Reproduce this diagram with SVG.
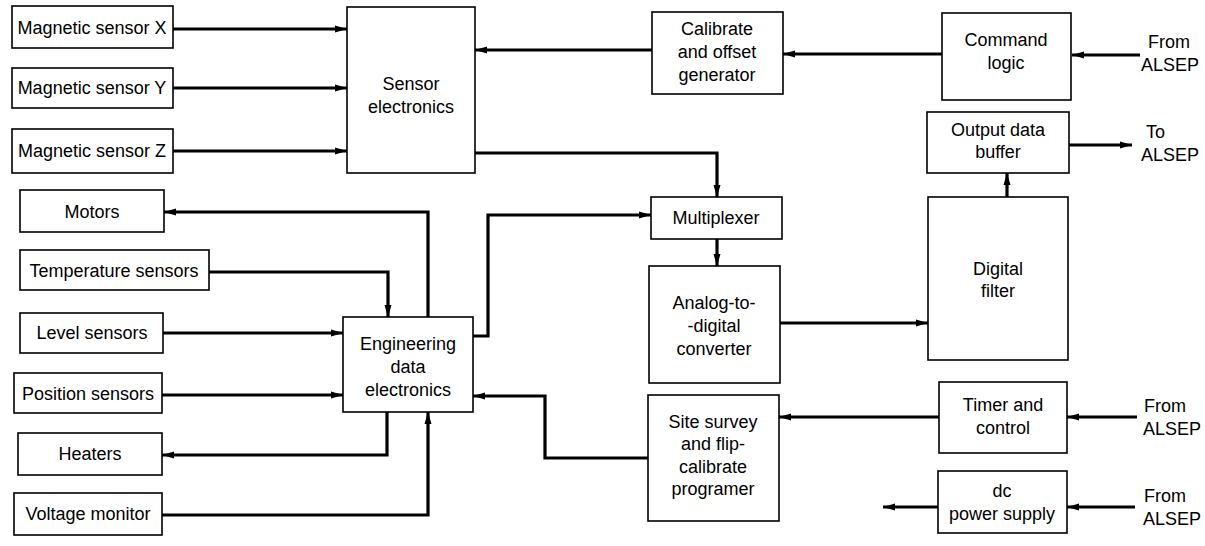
<svg xmlns="http://www.w3.org/2000/svg" width="1205" height="546" viewBox="0 0 1205 546">
<defs>
<marker id="ah" markerUnits="userSpaceOnUse" markerWidth="14" markerHeight="10" refX="12" refY="5" orient="auto">
<path d="M0,1.5 L12,5 L0,8.5 Z" fill="#000"/>
</marker>
<style>
rect{fill:#fff;stroke:#000;stroke-width:1.6}
text{font-family:"Liberation Sans",Arial,sans-serif;font-size:18px;fill:#000;text-anchor:middle}
.l{text-anchor:start}
#connectors path{fill:none;stroke:#000;stroke-width:3.2;marker-end:url(#ah)}
</style>
</defs>
<rect x="0" y="0" width="1205" height="546" style="fill:#fff;stroke:none"/>
<g id="connectors">
<path d="M172 29 H347"/>
<path d="M172 88 H347"/>
<path d="M172 151 H347"/>
<path d="M652 50 H475"/>
<path d="M942 54 H783"/>
<path d="M1140 55 H1072"/>
<path d="M1069 145 H1132"/>
<path d="M1007 197 V173"/>
<path d="M475 153 H717 V197"/>
<path d="M717 239 V266"/>
<path d="M780 323 H928"/>
<path d="M473 336 H488 V215 H651"/>
<path d="M939 417 H779"/>
<path d="M1137 417 H1067"/>
<path d="M1135 507 H1067"/>
<path d="M938 507 H883"/>
<path d="M648 458 H545 V396 H473"/>
<path d="M428 317 V212 H164"/>
<path d="M209 272 H388 V317"/>
<path d="M163 333 H343"/>
<path d="M162 395 H343"/>
<path d="M387 412 V455 H162"/>
<path d="M162 515 H428 V412"/>
</g>
<g id="mag-x"><rect x="12" y="6" width="161" height="42"/><text x="92" y="34">Magnetic sensor X</text></g>
<g id="mag-y"><rect x="12" y="68" width="161" height="40"/><text x="92" y="94">Magnetic sensor Y</text></g>
<g id="mag-z"><rect x="12" y="129" width="161" height="44"/><text x="92" y="157">Magnetic sensor Z</text></g>
<g id="sensor-electronics"><rect x="347" y="7" width="128" height="166"/><text x="411" y="90">Sensor</text><text x="411" y="113">electronics</text></g>
<g id="calibrate"><rect x="652" y="12" width="131" height="82"/><text x="717" y="35">Calibrate</text><text x="717" y="58">and offset</text><text x="717" y="81">generator</text></g>
<g id="command-logic"><rect x="942" y="13" width="129" height="87"/><text x="1006" y="46">Command</text><text x="1006" y="69">logic</text></g>
<g id="from-alsep-1"><text class="l" x="1148" y="48">From</text><text class="l" x="1141" y="71">ALSEP</text></g>
<g id="output-buffer"><rect x="927" y="112" width="142" height="61"/><text x="998" y="136">Output data</text><text x="998" y="158">buffer</text></g>
<g id="to-alsep"><text class="l" x="1146" y="138">To</text><text class="l" x="1141" y="161">ALSEP</text></g>
<g id="digital-filter"><rect x="928" y="197" width="140" height="163"/><text x="998" y="275">Digital</text><text x="998" y="297">filter</text></g>
<g id="motors"><rect x="20" y="190" width="144" height="42"/><text x="92" y="218">Motors</text></g>
<g id="temperature"><rect x="20" y="250" width="189" height="40"/><text x="114" y="277">Temperature sensors</text></g>
<g id="level"><rect x="20" y="313" width="143" height="40"/><text x="92" y="339">Level sensors</text></g>
<g id="position"><rect x="14" y="373" width="148" height="40"/><text x="88" y="400">Position sensors</text></g>
<g id="heaters"><rect x="18" y="433" width="144" height="42"/><text x="90" y="460">Heaters</text></g>
<g id="voltage"><rect x="14" y="493" width="148" height="42"/><text x="88" y="520">Voltage monitor</text></g>
<g id="engineering"><rect x="343" y="317" width="130" height="95"/><text x="408" y="350">Engineering</text><text x="408" y="373">data</text><text x="408" y="396">electronics</text></g>
<g id="multiplexer"><rect x="651" y="197" width="131" height="42"/><text x="716" y="224">Multiplexer</text></g>
<g id="adc"><rect x="649" y="266" width="131" height="117"/><text x="714" y="309">Analog-to-</text><text x="714" y="332">-digital</text><text x="714" y="355">converter</text></g>
<g id="site-survey"><rect x="648" y="395" width="131" height="126"/><text x="713" y="428">Site survey</text><text x="713" y="450">and flip-</text><text x="713" y="473">calibrate</text><text x="713" y="495">programer</text></g>
<g id="timer"><rect x="939" y="382" width="128" height="71"/><text x="1003" y="411">Timer and</text><text x="1003" y="434">control</text></g>
<g id="from-alsep-2"><text class="l" x="1144" y="412">From</text><text class="l" x="1143" y="435">ALSEP</text></g>
<g id="dc-power"><rect x="938" y="471" width="129" height="62"/><text x="1002" y="497">dc</text><text x="1002" y="520">power supply</text></g>
<g id="from-alsep-3"><text class="l" x="1144" y="502">From</text><text class="l" x="1143" y="525">ALSEP</text></g>
</svg>
